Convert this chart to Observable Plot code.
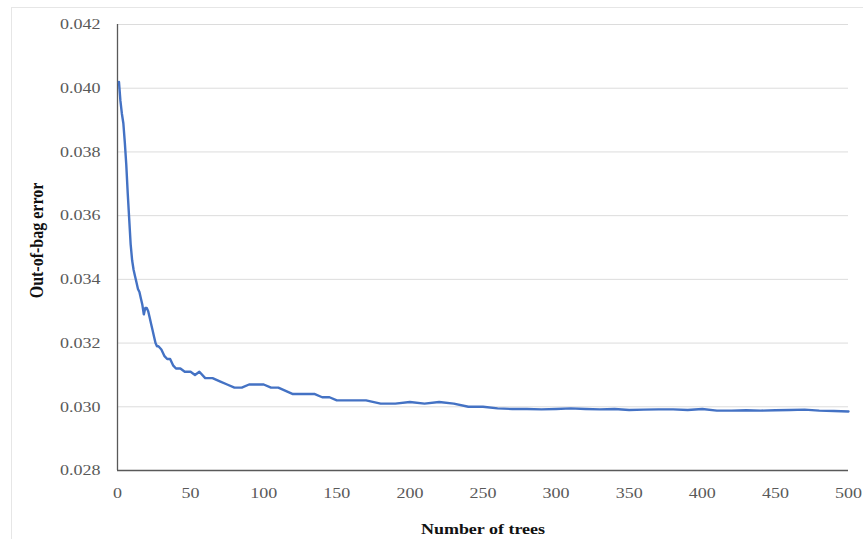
<!DOCTYPE html>
<html>
<head>
<meta charset="utf-8">
<script src="https://cdn.jsdelivr.net/npm/d3@7"></script>
<script src="https://cdn.jsdelivr.net/npm/@observablehq/plot@0.6"></script>
<style>
  html, body { margin: 0; padding: 0; background: #fff; }
  #chart { position: relative; width: 863px; height: 539px; }
  #frame { position: absolute; left: 11px; top: 7px; right: 0; bottom: 0; border-left: 1px solid #e6e6e6; border-top: 1px solid #e6e6e6; pointer-events: none; }
  svg { font-family: "Liberation Serif", "DejaVu Serif", serif; }
</style>
</head>
<body>
<div id="chart"><div id="frame"></div></div>
<script>
const trees = [1,2,3,4,5,6,7,8,9,10,11,12,13,14,15,16,17,18,19,20,21,22,23,24,25,26,27,28,30,32,34,36,38,40,43,46,50,53,56,60,65,70,75,80,85,90,95,100,105,110,115,120,125,130,135,140,145,150,160,170,180,190,200,210,220,230,240,250,260,270,280,290,300,310,320,330,340,350,360,370,380,390,400,410,420,430,440,450,460,470,480,490,500];
const oobError = [0.0402,0.0396,0.0392,0.0389,0.0383,0.0376,0.0367,0.0359,0.0351,0.0346,0.0343,0.0341,0.0339,0.0337,0.0336,0.0334,0.0332,0.0329,0.0331,0.0331,0.0330,0.0328,0.0326,0.0324,0.0322,0.0320,0.0319,0.0319,0.0318,0.0316,0.0315,0.0315,0.0313,0.0312,0.0312,0.0311,0.0311,0.0310,0.0311,0.0309,0.0309,0.0308,0.0307,0.0306,0.0306,0.0307,0.0307,0.0307,0.0306,0.0306,0.0305,0.0304,0.0304,0.0304,0.0304,0.0303,0.0303,0.0302,0.0302,0.0302,0.0301,0.0301,0.03015,0.0301,0.03015,0.0301,0.0300,0.0300,0.02995,0.02993,0.02993,0.02992,0.02993,0.02995,0.02993,0.02992,0.02993,0.0299,0.02991,0.02992,0.02992,0.0299,0.02993,0.02988,0.02988,0.02989,0.02988,0.02989,0.0299,0.02991,0.02988,0.02987,0.02985];
const xTicks = [0,50,100,150,200,250,300,350,400,450,500];
const yTicks = [0.028,0.030,0.032,0.034,0.036,0.038,0.040,0.042];
const xTitle = "Number of trees";
const yTitle = "Out-of-bag error";

const data = trees.map((t, i) => ({trees: t, oob: oobError[i]}));

const chart = Plot.plot({
  width: 863,
  height: 539,
  marginLeft: 117,
  marginRight: 15,
  marginTop: 24,
  marginBottom: 69,
  style: {fontFamily: "'Liberation Serif', serif", fontSize: "15px", color: "#595959", background: "transparent"},
  x: {domain: [0, 500]},
  y: {domain: [0.028, 0.042]},
  marks: [
    Plot.gridY(yTicks, {stroke: "#dcdcdc", strokeOpacity: 1, strokeWidth: 1}),
    Plot.axisY(yTicks, {tickSize: 0, tickPadding: 17, tickFormat: d3.format(".3f"), fill: "#595959", fontSize: 15, label: null}),
    Plot.axisX(xTicks, {tickSize: 0, tickPadding: 17, tickFormat: d => String(d), fill: "#595959", fontSize: 15, label: null}),
    Plot.ruleX([0], {stroke: "#595959", strokeWidth: 1.3}),
    Plot.ruleY([0.028], {stroke: "#595959", strokeWidth: 1.3}),
    Plot.line(data, {x: "trees", y: "oob", stroke: "#4472C4", strokeWidth: 2.4, curve: "linear"}),
    Plot.text([xTitle], {frameAnchor: "bottom", dy: 63, fontWeight: "bold", fill: "#111", fontSize: 15}),
    Plot.text([yTitle], {frameAnchor: "left", textAnchor: "middle", dx: -81, dy: -7, rotate: -90, fontWeight: "bold", fill: "#111", fontSize: 16})
  ]
});
// emulate the horizontally stretched type of the reference image
d3.select(chart).selectAll("text").each(function() {
  const t = this.getAttribute("transform");
  if (t && /translate\([^)]*\)/.test(t)) {
    this.setAttribute("transform", t.replace(/(translate\([^)]*\))/, "$1 scale(1.2,1)"));
  } else if (t) {
    this.setAttribute("transform", "scale(1.2,1) " + t);
  }
});
document.getElementById("chart").appendChild(chart);
chart.style.position = "absolute";
chart.style.left = "0";
chart.style.top = "0";
</script>
</body>
</html>
